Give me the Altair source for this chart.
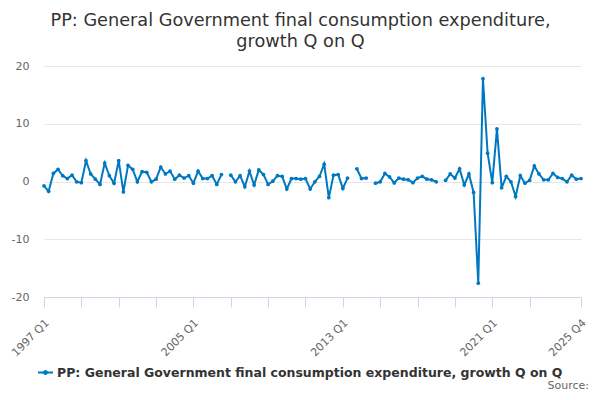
import altair as alt
import pandas as pd

series_name = "PP: General Government final consumption expenditure, growth Q on Q"

# quarterly categories 1997 Q1 .. 2025 Q4
quarters = [f"{y} Q{q}" for y in range(1997, 2026) for q in range(1, 5)]

# growth Q on Q (%); None = missing quarter
growth = [
    -0.75, -1.7, 1.4, 2.1, 1.0, 0.5, 1.1, -0.05,
    -0.2, 3.6, 1.3, 0.4, -0.5, 3.2, 1.0, -0.3,
    3.6, -1.8, 2.8, 2.1, -0.05, 1.7, 1.6, -0.05,
    0.4, 2.5, 1.3, 1.8, 0.4, 1.1, 0.6, 1.0,
    -0.3, 1.8, 0.5, 0.5, 1.0, -0.5, 1.2, None,
    1.1, -0.05, 1.0, -0.9, 1.8, -0.6, 2.0, 1.2,
    -0.5, 0.05, 1.0, 0.9, -1.3, 0.5, 0.5, 0.4,
    0.5, -1.3, -0.05, 0.9, 3.0, -2.8, 1.1, 1.2,
    -1.2, 0.6, None, 2.2, 0.5, 0.6, None, -0.3,
    -0.05, 1.4, 0.8, -0.25, 0.6, 0.4, 0.3, -0.2,
    0.6, 0.9, 0.4, 0.3, -0.05, None, 0.2, 1.3,
    0.6, 2.2, -0.6, 1.3, -1.9, -17.6, 17.8, 4.9,
    -0.2, 9.1, -1.1, 0.9, -0.05, -2.6, 1.0, -0.3,
    0.2, 2.7, 1.3, 0.3, 0.3, 1.4, 0.7, 0.5,
    -0.05, 1.1, 0.4, 0.5,
]

tick_positions = [0, 8, 16, 24, 32, 40, 48, 56, 64, 72, 80, 88, 96, 104, 115]
label_positions = [0, 32, 64, 96, 115]
y_ticks = [-20, -10, 0, 10, 20]

line_color = "#0078c1"

df = pd.DataFrame({
    "idx": list(range(len(quarters))),
    "quarter": quarters,
    "growth": growth,
    "series": series_name,
})

label_expr = " : ".join(
    f"datum.value == {p} ? '{quarters[p]}'" for p in label_positions
) + " : ''"

# legend symbol: short line with a dot in the middle
legend_symbol = ("M-1,-0.13H1V0.13H-1Z "
                 "M0.33,0A0.33,0.33 0 1 1 -0.33,0A0.33,0.33 0 1 1 0.33,0Z")

lines = alt.Chart(df).mark_line(
    strokeWidth=2,
    point=alt.OverlayMarkDef(size=14, filled=True, opacity=1),
).encode(
    x=alt.X("idx:Q",
            scale=alt.Scale(domain=[0, 115], nice=False, zero=False),
            axis=alt.Axis(values=tick_positions, labelExpr=label_expr,
                          labelAngle=-45, labelAlign="right", labelBaseline="middle",
                          grid=False, domainColor="#ccd6eb", tickColor="#ccd6eb",
                          tickSize=10, labelColor="#666666", labelFontSize=11,
                          labelPadding=14, labelOffset=3, labelOverlap=False,
                          title=None)),
    y=alt.Y("growth:Q",
            scale=alt.Scale(domain=[-20, 20], nice=False),
            axis=alt.Axis(values=y_ticks, domain=False, ticks=False,
                          labelExpr="'' + datum.value",
                          gridColor="#e6e6e6", labelColor="#666666",
                          labelFontSize=11, labelPadding=15, title=None)),
    color=alt.Color("series:N",
                    scale=alt.Scale(domain=[series_name], range=[line_color]),
                    legend=alt.Legend(title=None, orient="none", legendX=-6, legendY=299,
                                      symbolType=legend_symbol, symbolSize=225,
                                      symbolFillColor=line_color, symbolStrokeWidth=0,
                                      labelFontWeight="bold", labelFontSize=12.5,
                                      labelColor="#333333", labelLimit=0)),
    tooltip=[alt.Tooltip("quarter:N", title="Quarter"),
             alt.Tooltip("growth:Q", title="Growth Q on Q")],
)

source = alt.Chart(pd.DataFrame({"t": ["Source:"]})).mark_text(
    align="right", baseline="alphabetic", fontSize=11, color="#666666"
).encode(
    text="t:N",
    x=alt.value(545),
    y=alt.value(323),
)

chart = alt.layer(lines, source).properties(
    width=537,
    height=231,
    autosize=alt.AutoSizeParams(type="none"),
    padding={"left": 36, "top": 58, "right": 10, "bottom": 94},
    title=alt.TitleParams(
        text=["PP: General Government final consumption expenditure,", "growth Q on Q"],
        fontSize=17.7, fontWeight="normal", color="#333333",
        anchor="middle", dx=-12, offset=9, lineHeight=21,
    ),
).configure(
    font="DejaVu Sans",
).configure_view(
    stroke=None,
)

chart.save("out.html", embed_options={"renderer": "svg", "actions": False})
